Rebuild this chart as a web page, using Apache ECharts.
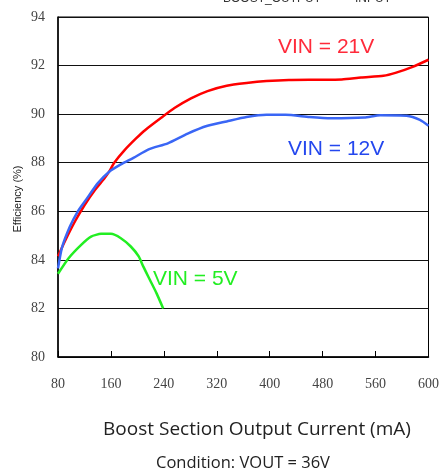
<!DOCTYPE html>
<html>
<head>
<meta charset="utf-8">
<script src="https://cdn.jsdelivr.net/npm/echarts@6/dist/echarts.min.js"></script>
<style>html,body{margin:0;padding:0;background:#fff;}#c{width:442px;height:473px;}</style>
</head>
<body>
<div id="c"></div>
<script>
// X axis tick values (axis units) and displayed labels
const xTicks = [80, 160, 240, 320, 400, 480, 560, 640];
const xTickLabels = ['80', '160', '240', '320', '400', '480', '560', '600'];
const yTicks = [80, 82, 84, 86, 88, 90, 92, 94];

// VIN = 21V (red)
const vin21 = [[80,84.15],[91,84.8],[106,85.6],[120,86.25],[135,86.85],[150,87.35],[157,87.62],[165,88.0],[180,88.5],[198,89.0],[212,89.35],[236,89.85],[256,90.25],[281,90.65],[306,90.95],[335,91.17],[365,91.28],[395,91.36],[429,91.41],[470,91.42],[509,91.43],[538,91.51],[572,91.58],[590,91.7],[617,91.96],[640,92.24]];
// VIN = 12V (blue)
const vin12 = [[80,83.65],[86,84.5],[98,85.37],[110,86.0],[123,86.5],[140,87.15],[157,87.62],[175,87.93],[194,88.2],[217,88.55],[246,88.8],[276,89.2],[306,89.52],[335,89.7],[365,89.88],[395,89.97],[424,89.97],[460,89.88],[493,89.83],[543,89.86],[567,89.95],[607,89.93],[627,89.76],[640,89.52]];
// VIN = 5V (green)
const vin5 = [[80,83.43],[96,84.07],[115,84.62],[130,84.96],[145,85.07],[160,85.07],[175,84.89],[190,84.55],[202,84.14],[209,83.72],[219,83.17],[229,82.62],[239,82.0]];

const seriesNames = ['VIN = 21V', 'VIN = 12V', 'VIN = 5V'];

const chart = echarts.init(document.getElementById('c'), null, {renderer: 'canvas'});
const serif = '"Liberation Serif", "DejaVu Serif", serif';
const sans = '"Liberation Sans", Arial, sans-serif';
const human = '"Open Sans", "Noto Sans", sans-serif';

chart.setOption({
  animation: false,
  backgroundColor: '#fff',
  grid: {left: 58, right: 6, top: 17, bottom: 116, show: true, borderColor: '#000', borderWidth: 1, backgroundColor: 'transparent'},
  xAxis: {
    type: 'value', min: xTicks[0], max: xTicks[xTicks.length - 1], interval: 80,
    axisLine: {lineStyle: {color: '#000', width: 1.5}},
    axisTick: {inside: true, length: 6, lineStyle: {color: '#000', width: 1}},
    splitLine: {show: false},
    axisLabel: {margin: 20, color: '#444', fontFamily: serif, fontSize: 14,
      formatter: v => xTickLabels[xTicks.indexOf(v)] ?? ''}
  },
  yAxis: {
    type: 'value', min: yTicks[0], max: yTicks[yTicks.length - 1], interval: 2,
    axisLine: {show: true, lineStyle: {color: '#000', width: 1.5}},
    axisTick: {show: false},
    splitLine: {lineStyle: {color: '#111', width: 1.2}},
    axisLabel: {margin: 13, color: '#444', fontFamily: serif, fontSize: 14}
  },
  series: [
    {name: seriesNames[0], type: 'line', data: vin21, smooth: 0.2, showSymbol: false, lineStyle: {color: '#ff0000', width: 2.5}},
    {name: seriesNames[1], type: 'line', data: vin12, smooth: 0.2, showSymbol: false, lineStyle: {color: '#3a66f5', width: 2.5}},
    {name: seriesNames[2], type: 'line', data: vin5, smooth: 0.2, showSymbol: false, lineStyle: {color: '#22ee22', width: 2.5}}
  ],
  graphic: [
    {type: 'text', left: 278, top: 37, style: {text: seriesNames[0], fill: '#ff2a3a', font: '21px ' + sans}},
    {type: 'text', left: 288, top: 139, style: {text: seriesNames[1], fill: '#2447ee', font: '21px ' + sans}},
    {type: 'text', left: 153, top: 269, style: {text: seriesNames[2], fill: '#22ee22', font: '21px ' + sans}},
    {type: 'text', left: 223, top: -7, style: {text: 'BOOST_OUTPUT', fill: '#333', font: '12px ' + sans}},
    {type: 'text', left: 355, top: -7, style: {text: 'INPUT', fill: '#333', font: '12px ' + sans}},
    {type: 'text', x: 18, y: 199, rotation: Math.PI / 2, style: {text: 'Efficiency (%)', fill: '#222', font: '11px ' + sans, textAlign: 'center', textVerticalAlign: 'middle'}},
    {type: 'text', x: 257, y: 430, style: {text: 'Boost Section Output Current (mA)', fill: '#222', font: '19px ' + human, textAlign: 'center', textVerticalAlign: 'middle'}},
    {type: 'text', x: 243, y: 463, style: {text: 'Condition: VOUT = 36V', fill: '#222', font: '16.5px ' + human, textAlign: 'center', textVerticalAlign: 'middle'}}
  ]
});
</script>
</body>
</html>
